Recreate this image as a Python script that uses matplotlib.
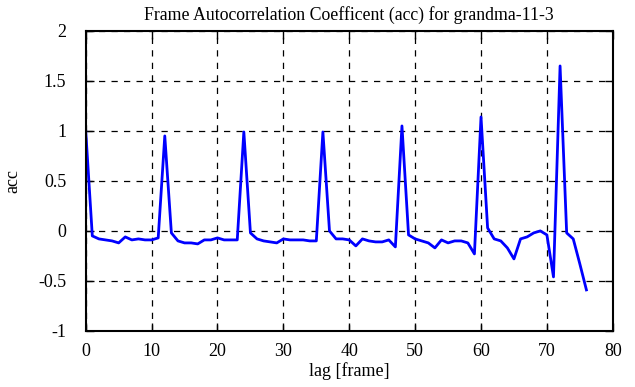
import matplotlib.pyplot as plt
from matplotlib.ticker import FuncFormatter

lags = list(range(77))
acc = [1.0, -0.05, -0.08, -0.09, -0.10, -0.12, -0.06, -0.09, -0.08, -0.09,
       -0.09, -0.07, 0.95, -0.02, -0.10, -0.12, -0.12, -0.13, -0.09, -0.09,
       -0.07, -0.09, -0.09, -0.09, 0.99, -0.02, -0.08, -0.10, -0.11, -0.12,
       -0.08, -0.09, -0.09, -0.09, -0.10, -0.10, 0.99, 0.0, -0.08, -0.08,
       -0.09, -0.15, -0.08, -0.10, -0.11, -0.11, -0.09, -0.16, 1.05, -0.04,
       -0.08, -0.10, -0.12, -0.17, -0.09, -0.12, -0.10, -0.10, -0.12, -0.23,
       1.14, 0.03, -0.08, -0.10, -0.17, -0.28, -0.08, -0.06, -0.02, 0.0,
       -0.04, -0.46, 1.65, -0.02, -0.08, -0.33, -0.59]

plt.rcParams['font.family'] = ['Liberation Serif', 'DejaVu Serif']

fig = plt.figure(figsize=(6.35, 3.87), dpi=100)
ax = fig.add_axes([0.135, 0.145, 0.83, 0.775])

ax.plot(lags, acc, c="#0000ff", lw=2)

ax.set_xlim(0, 80)
ax.set_ylim(-1, 2)
ax.set_xticks(range(0, 81, 10))
ax.set_yticks([-1, -0.5, 0, 0.5, 1, 1.5, 2])
ax.yaxis.set_major_formatter(FuncFormatter(lambda v, p: ("%g" % v)))
ax.grid(True, color="black", linestyle=(0, (5, 5)), linewidth=0.9)
ax.tick_params(axis="both", direction="in", top=True, right=True,
               length=6, width=1, labelsize=13)
ax.tick_params(axis="y", pad=14)
ax.tick_params(axis="x", pad=9)
for s in ax.spines.values():
    s.set_linewidth(1.5)

ax.set_title("Frame Autocorrelation Coefficent (acc) for grandma-11-3", fontsize=12.8, pad=8)
ax.set_xlabel("lag [frame]", fontsize=13, labelpad=1)
ax.set_ylabel("acc", fontsize=13, labelpad=12)

fig.savefig("out.png", dpi=100)
